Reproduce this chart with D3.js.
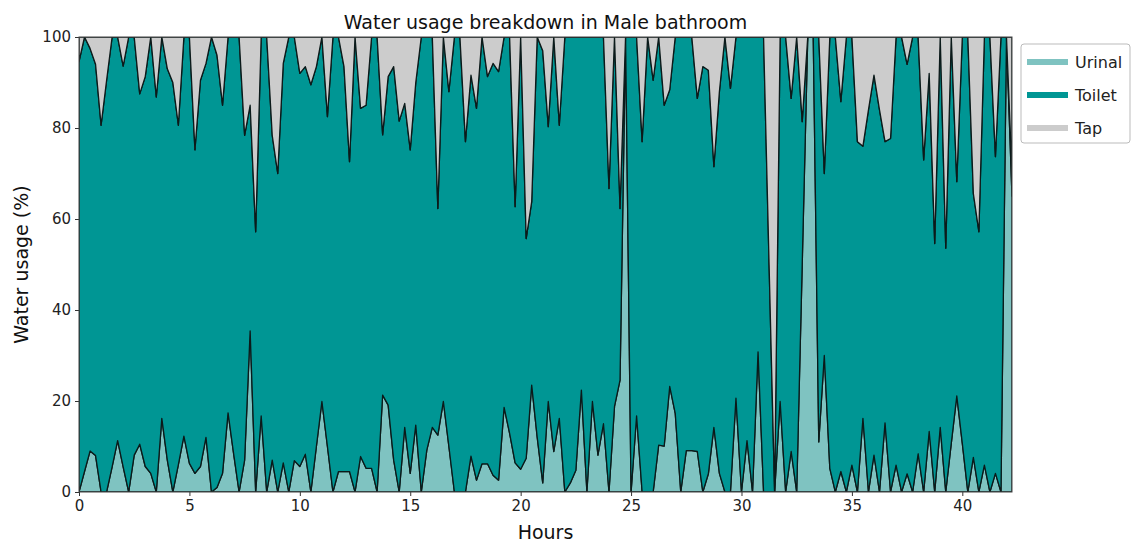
<!DOCTYPE html>
<html>
<head>
<meta charset="utf-8">
<script src="https://cdn.jsdelivr.net/npm/d3@7"></script>
<style>
  body { margin: 0; background: #fff; }
  svg { font-family: "DejaVu Sans", sans-serif; }
</style>
</head>
<body>
<div id="chart"></div>
<script>
// urinal share (%) every 15 minutes
const urinal = [
  0, 4.5, 9, 8, 0, 0, 5.5, 11.3, 5.5, 0, 8.1, 10.5, 5.6, 4.1, 0, 16.2, 7, 0, 6, 12.3,
  6.3, 4.1, 5.6, 12, 0, 1, 4.1, 17.4, 8.5, 0, 7, 35.4, 0, 16.7, 0, 7, 0, 6.4, 0, 6.9,
  5.6, 8.3, 0, 10, 19.9, 10, 0, 4.5, 4.5, 4.5, 0, 7.8, 5.2, 5.2, 0, 21.3, 19.1, 7, 0, 14.2,
  4.1, 14.7, 0, 9.2, 14.2, 12.5, 19.9, 10, 0, 0, 0, 7.9, 2.6, 6.2, 6.2, 3.7, 2.6, 18.6, 12.9, 6.4,
  5, 7.4, 23.5, 12, 2, 19.9, 8.9, 16.2, 0, 2, 4.8, 22.4, 0, 19.9, 8.1, 15, 0, 18.8, 24.6, 100,
  0, 16.7, 0, 0, 0, 10.3, 10.1, 23.2, 17.3, 0, 9.1, 9.1, 8.9, 0, 4, 14.2, 4.1, 0, 0, 20.6,
  0, 11.3, 0, 30.8, 0, 0, 0, 19.9, 0, 8.9, 0, 50, 100, 100, 11, 30, 5.2, 0, 4.5, 0,
  5.9, 0, 16.2, 0, 8.1, 0, 15.2, 0, 5.9, 0, 4, 0, 8.4, 0, 13.3, 0, 14.2, 0, 10.7, 21.1,
  10.7, 0, 7.6, 0, 5.9, 0, 4.1, 0, 100, 65
];
const toilet = [
  94.6, 95.5, 88.5, 86, 80.6, 90.5, 94.5, 88.7, 88.1, 100, 91.9, 77, 85.7, 95.9, 86.8, 83.8, 86, 90, 74.6, 87.7,
  93.7, 71.1, 84.9, 82.2, 100, 95, 80.9, 82.6, 91.5, 100, 71.4, 49.6, 57.2, 83.3, 100, 71.4, 70, 87.8, 100, 93.1,
  86.4, 85.2, 89.5, 83.5, 80.1, 72.5, 100, 95.5, 89, 68.1, 100, 76.5, 79.8, 94.8, 100, 57.2, 72.2, 86.5, 81.5, 71.2,
  71.1, 75.3, 100, 90.8, 85.8, 49.8, 80.1, 78, 100, 100, 77, 83.7, 81.7, 93.8, 85.1, 90.5, 89.8, 81.4, 87.1, 56.3,
  95, 48.3, 40.3, 88, 95, 60.4, 91.1, 64.4, 100, 98, 95.2, 77.6, 100, 80.1, 91.9, 85, 66.7, 81.2, 37.7, 0,
  100, 83.3, 77, 100, 90.5, 89.7, 74.9, 65.2, 82.7, 100, 90.9, 90.9, 77.6, 93.5, 88.7, 57.3, 83.9, 100, 88.7, 79.4,
  100, 88.7, 100, 69.2, 100, 50, 0, 80.1, 100, 77.6, 100, 31.4, 0, 0, 89, 40, 94.8, 100, 81.3, 100,
  94.1, 77, 59.8, 84, 83.5, 84, 61.8, 77.7, 94.1, 100, 90, 100, 91.6, 73, 78.7, 54.6, 85.8, 53.6, 89.3, 47.1,
  89.3, 100, 58, 57.2, 94.1, 100, 69.6, 100, 0, 5
];
const tap = [
  5.4, 0, 2.5, 6, 19.4, 9.5, 0, 0, 6.4, 0, 0, 12.5, 8.7, 0, 13.2, 0, 7, 10, 19.4, 0,
  0, 24.8, 9.5, 5.8, 0, 4, 15, 0, 0, 0, 21.6, 15, 42.8, 0, 0, 21.6, 30, 5.8, 0, 0,
  8, 6.5, 10.5, 6.5, 0, 17.5, 0, 0, 6.5, 27.4, 0, 15.7, 15, 0, 0, 21.5, 8.7, 6.5, 18.5, 14.6,
  24.8, 10, 0, 0, 0, 37.7, 0, 12, 0, 0, 23, 8.4, 15.7, 0, 8.7, 5.8, 7.6, 0, 0, 37.3,
  0, 44.3, 36.2, 0, 3, 19.7, 0, 19.4, 0, 0, 0, 0, 0, 0, 0, 0, 33.3, 0, 37.7, 0,
  0, 0, 23, 0, 9.5, 0, 15, 11.6, 0, 0, 0, 0, 13.5, 6.5, 7.3, 28.5, 12, 0, 11.3, 0,
  0, 0, 0, 0, 0, 50, 100, 0, 0, 13.5, 0, 18.6, 0, 0, 0, 30, 0, 0, 14.2, 0,
  0, 23, 24, 16, 8.4, 16, 23, 22.3, 0, 0, 6, 0, 0, 27, 8, 45.4, 0, 46.4, 0, 31.8,
  0, 0, 34.4, 42.8, 0, 0, 26.3, 0, 0, 30
];
const hours = urinal.map((_, i) => i * 0.25);   // samples every 15 min

const keys = ['Urinal', 'Toilet', 'Tap'];
const colors = ['#7fc3c1', '#009694', '#cccccc'];
const xTicks = [0, 5, 10, 15, 20, 25, 30, 35, 40];
const yTicks = [0, 20, 40, 60, 80, 100];

const width = 1132, height = 542;
const margin = { top: 37, right: 120, bottom: 50, left: 79 };

const rows = hours.map((h, i) => ({ hour: h, Urinal: urinal[i], Toilet: toilet[i], Tap: tap[i] }));

const svg = d3.select('#chart').append('svg')
  .attr('width', width)
  .attr('height', height);

const x = d3.scaleLinear()
  .domain([0, d3.max(hours)])
  .range([margin.left, width - margin.right]);
const y = d3.scaleLinear()
  .domain([0, 100])
  .range([height - margin.bottom, margin.top]);

const series = d3.stack().keys(keys)(rows);

const area = d3.area()
  .x(d => x(d.data.hour))
  .y0(d => y(d[0]))
  .y1(d => y(d[1]));

svg.append('defs').append('clipPath').attr('id', 'clip')
  .append('rect')
  .attr('x', x.range()[0]).attr('y', y.range()[1])
  .attr('width', x.range()[1] - x.range()[0])
  .attr('height', y.range()[0] - y.range()[1]);

const plot = svg.append('g').attr('clip-path', 'url(#clip)');

plot.selectAll('path.layer')
  .data(series)
  .enter()
  .append('path')
    .attr('class', 'layer')
    .attr('d', area)
    .attr('fill', (d, i) => colors[i])
    .attr('stroke', '#0b1a1a')
    .attr('stroke-width', 1.3)
    .attr('stroke-linejoin', 'round');

// axes
const xAxis = svg.append('g')
  .attr('transform', `translate(0,${y(0)})`)
  .call(d3.axisBottom(x).tickValues(xTicks).tickSize(4).tickPadding(4));
const yAxis = svg.append('g')
  .attr('transform', `translate(${x(0)},0)`)
  .call(d3.axisLeft(y).tickValues(yTicks).tickSize(4).tickPadding(4));

[xAxis, yAxis].forEach(a => {
  a.select('.domain').remove();
  a.selectAll('text').attr('font-size', 15).attr('fill', '#222')
    .attr('font-family', '"DejaVu Sans", sans-serif');
  a.selectAll('line').attr('stroke', '#333');
});

// frame
svg.append('rect')
  .attr('x', x.range()[0]).attr('y', y.range()[1])
  .attr('width', x.range()[1] - x.range()[0])
  .attr('height', y.range()[0] - y.range()[1])
  .attr('fill', 'none')
  .attr('stroke', '#444')
  .attr('stroke-width', 1);

// titles
svg.append('text')
  .attr('x', (x.range()[0] + x.range()[1]) / 2)
  .attr('y', 29)
  .attr('text-anchor', 'middle')
  .attr('font-size', 19)
  .attr('fill', '#111')
  .text('Water usage breakdown in Male bathroom');

svg.append('text')
  .attr('x', (x.range()[0] + x.range()[1]) / 2)
  .attr('y', 539)
  .attr('text-anchor', 'middle')
  .attr('font-size', 19)
  .attr('fill', '#111')
  .text('Hours');

svg.append('text')
  .attr('transform', `translate(28,${(y.range()[0] + y.range()[1]) / 2}) rotate(-90)`)
  .attr('text-anchor', 'middle')
  .attr('font-size', 19)
  .attr('fill', '#111')
  .text('Water usage (%)');

// legend
const legend = svg.append('g').attr('transform', 'translate(1021,44)');
legend.append('rect')
  .attr('width', 109).attr('height', 99)
  .attr('rx', 3)
  .attr('fill', '#fff')
  .attr('stroke', '#bbb');
keys.forEach((k, i) => {
  const g = legend.append('g').attr('transform', `translate(0,${18 + i * 33})`);
  g.append('line')
    .attr('x1', 6).attr('x2', 47)
    .attr('stroke', colors[i])
    .attr('stroke-width', 6);
  g.append('text')
    .attr('x', 54).attr('y', 6)
    .attr('font-size', 16)
    .attr('fill', '#222')
    .text(k);
});
</script>
</body>
</html>
